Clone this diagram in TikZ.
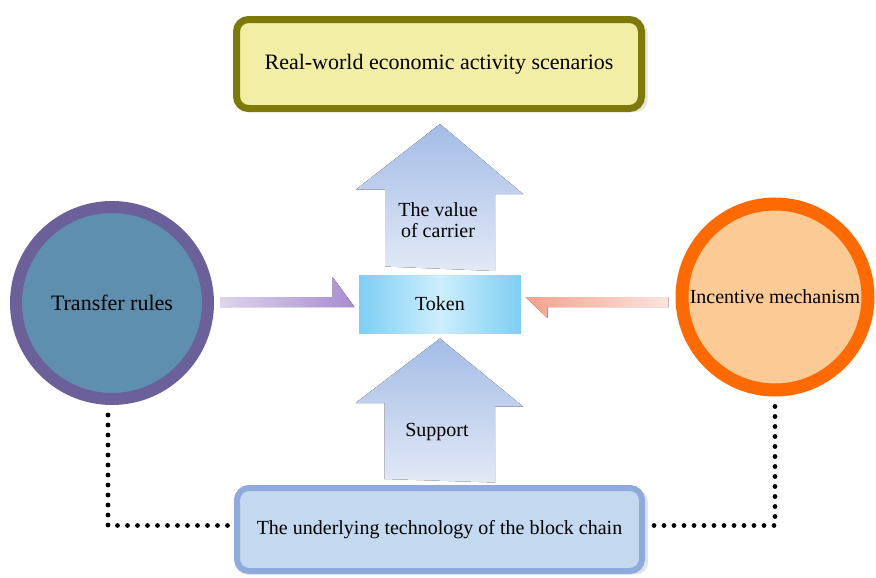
\documentclass[tikz,border=0pt]{standalone}
\usepackage{fontspec}
\setmainfont{Liberation Serif}
\usetikzlibrary{calc,shadows}

\definecolor{olivering}{RGB}{125,122,10}
\definecolor{paleyellow}{RGB}{242,238,166}
\definecolor{arrtop}{RGB}{163,188,230}
\definecolor{arrbot}{RGB}{226,233,246}
\definecolor{tokcyan}{RGB}{126,206,244}
\definecolor{toklight}{RGB}{205,238,252}
\definecolor{purpring}{RGB}{107,96,153}
\definecolor{steelfill}{RGB}{95,143,174}
\definecolor{orangering}{RGB}{255,106,0}
\definecolor{peachfill}{RGB}{252,203,149}
\definecolor{chainring}{RGB}{143,170,220}
\definecolor{chainfill}{RGB}{196,216,240}
\definecolor{purpdark}{RGB}{168,140,210}
\definecolor{purplight}{RGB}{222,212,236}
\definecolor{salmondark}{RGB}{247,160,140}
\definecolor{salmonlight}{RGB}{252,228,222}

\tikzset{every picture/.style={line width=0.75pt}}
\tikzset{
  txt/.style={font=\fontsize{15}{15.5}\selectfont, align=center, inner sep=0.75pt},
  bigtxt/.style={font=\fontsize{16.5}{18}\selectfont},
  softshadow/.style={drop shadow={shadow xshift=1.5pt, shadow yshift=-2pt, shadow scale=1.02, opacity=0.18, fill=black!60}},
  dotline/.style={line width=3.6pt, line cap=round, dash pattern=on 0pt off 7.5pt},
  uparrow/.style={top color=arrtop, bottom color=arrbot},
}

\begin{document}
\begin{tikzpicture}[x=0.75pt,y=0.75pt,yscale=-1,xscale=1]
\useasboundingbox (0,0) rectangle (876,578);

%Rounded Rect [scenarios]
\node (scen) [draw=olivering, fill=paleyellow, line width=5.25pt, rounded corners=9pt, minimum width=303.75pt, minimum height=66.75pt, softshadow, txt, bigtxt] at (439,64) {Real-world economic activity scenarios};
%Rect [token]
\node (token) [left color=tokcyan, right color=tokcyan, middle color=toklight, minimum width=121.5pt, minimum height=43.5pt, txt] at (440,304) {Token};
%Rounded Rect [block chain]
\node (chain) [draw=chainring, fill=chainfill, line width=4.5pt, rounded corners=9pt, minimum width=303.75pt, minimum height=62.25pt, softshadow, txt] at (439.5,529.5) {The underlying technology of the block chain};

%Circle [left]
\node (transfer) [circle, draw=purpring, fill=steelfill, line width=9pt, minimum size=144pt, softshadow, txt, bigtxt] at (112,303) {Transfer rules};
%Circle [right]
\node (incentive) [circle, draw=orangering, fill=peachfill, line width=9.75pt, minimum size=139.5pt, softshadow, txt] at (775,297) {Incentive mechanism};

%Block Arrow [token -> scenarios]
\fill[uparrow] ($(token.north)+(-55,-8)$) -- ++(0,-77) -- ++(-29,0) -- ($(scen.south)+(1,12)$) -- ++(83,70) -- ++(-28,0) -- ++(0,77) -- cycle;
%Block Arrow [chain -> token]
\fill[uparrow] ($(chain.north)+(-55,-6)$) -- ++(0,-76) -- ++(-29,0) -- ($(token.south)+(0,5)$) -- ++(83,68) -- ++(-28,0) -- ++(0,76) -- cycle;

%Half Arrow [transfer -> token]
\fill[left color=purplight, right color=purpdark] ($(transfer.east)+(6,-6)$) -- ($(token.west)+(-26,-7)$) -- ++(0,-20) -- ($(token.west)+(-4,3)$) -- ($(transfer.east)+(6,4)$) -- cycle;
%Half Arrow [incentive -> token]
\fill[left color=salmondark, right color=salmonlight] ($(incentive.west)+(-7,0)$) -- ($(token.east)+(4,-7)$) -- ($(token.east)+(26,14)$) -- ++(0,-11) -- ($(incentive.west)+(-7,10)$) -- cycle;

%Dotted Lines
\draw[dotline] ($(transfer.south)+(-4,10)$) |- ($(chain.west)+(-6,-4)$);
\draw[dotline] ($(incentive.south)+(0,10)$) |- ($(chain.east)+(6,-4)$);

% Text Node
\node (value) [txt] at (438,220) {The value\\of carrier};
% Text Node
\node (support) [txt] at (437,432) {Support};

\end{tikzpicture}
\end{document}
